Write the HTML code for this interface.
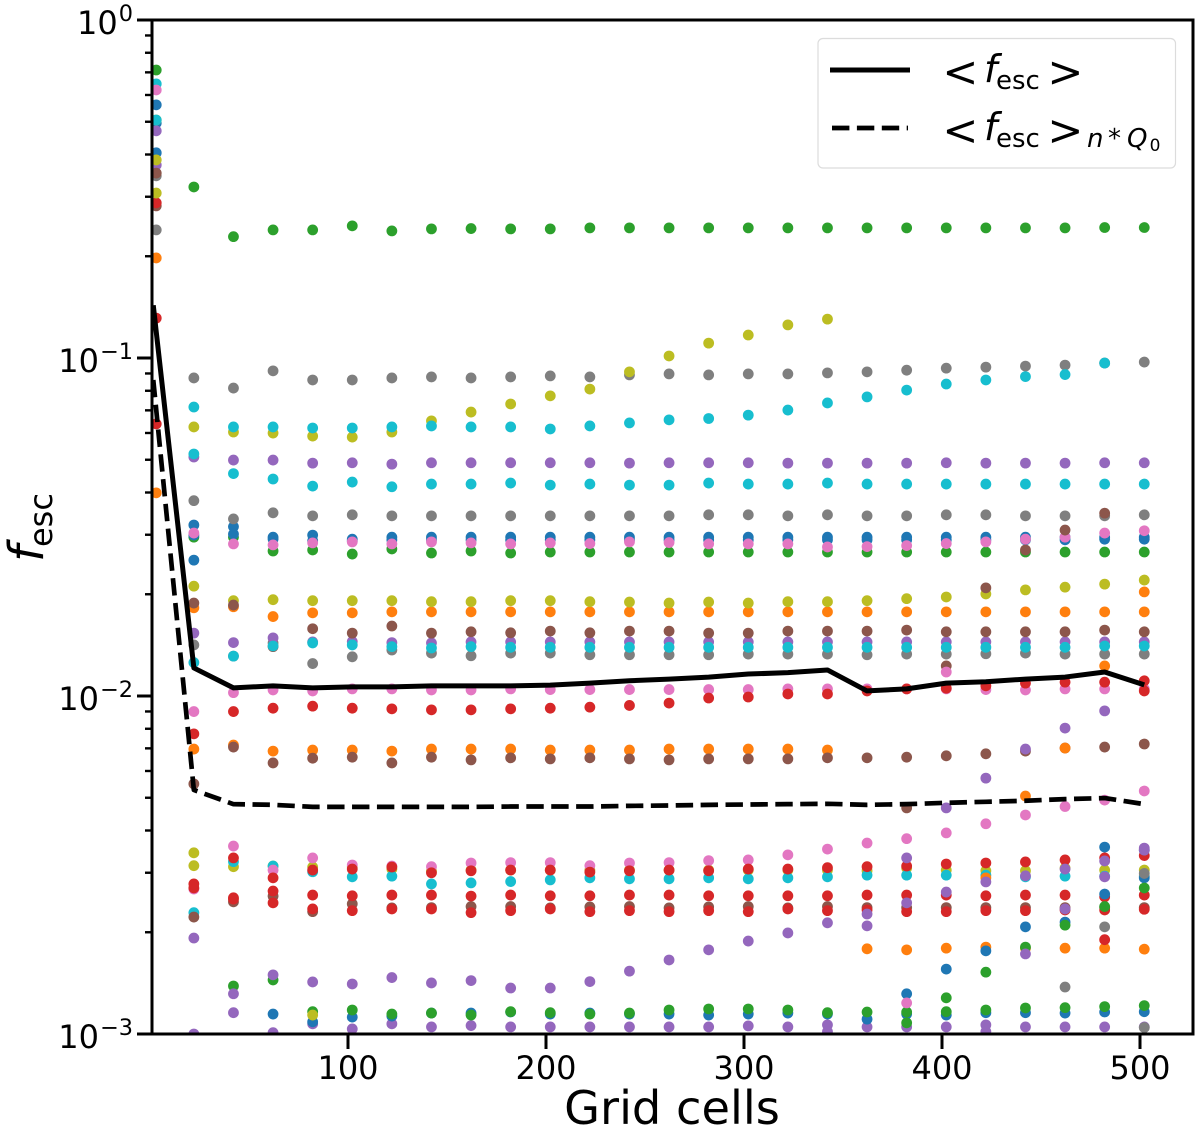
<!DOCTYPE html>
<html lang="en">
<head>
<meta charset="utf-8">
<title>Escape fraction vs grid cells</title>
<style>
html,body{margin:0;padding:0;background:#fff;width:1200px;height:1140px;overflow:hidden}
svg{display:block}
text{font-family:"DejaVu Sans","Liberation Sans",sans-serif;fill:#000}
.it{font-style:italic}
</style>
</head>
<body>
<svg id="chart" xmlns="http://www.w3.org/2000/svg" width="1200" height="1140" viewBox="0 0 1200 1140">
  <defs><clipPath id="plot-clip"><rect x="152" y="20" width="1041" height="1014"/></clipPath></defs>
  <rect x="0" y="0" width="1200" height="1140" fill="#fff"/>
  <g id="points" clip-path="url(#plot-clip)"></g>
  <g id="lines" clip-path="url(#plot-clip)"></g>
  <g id="axes"></g>
  <text x="672" y="1124" font-size="46.300" text-anchor="middle">Grid cells</text>
  <g>
    <text class="it" transform="translate(43,562) rotate(-90)" font-size="48">f</text>
    <text transform="translate(52,547) rotate(-90)" font-size="32">esc</text>
  </g>
  <g>
    <rect x="818" y="38.500" width="357.500" height="129.500" rx="5" fill="#fff" fill-opacity="0.8" stroke="#dcdcdc" stroke-width="1.200"/>
    <line x1="830" y1="70" x2="910" y2="70" stroke="#000" stroke-width="5"/>
    <line x1="832" y1="128" x2="908" y2="128" stroke="#000" stroke-width="4.700" stroke-dasharray="17.400 7.500"/>
    <g>
      <text x="942.400" y="86.500" font-size="43">&lt;</text>
      <text class="it" x="984" y="82" font-size="38">f</text>
      <text x="996" y="89" font-size="26">esc</text>
      <text x="1047.400" y="86.500" font-size="43">&gt;</text>
    </g>
    <g>
      <text x="942.400" y="145" font-size="43">&lt;</text>
      <text class="it" x="984" y="140" font-size="38">f</text>
      <text x="996" y="147" font-size="26">esc</text>
      <text x="1047.400" y="145" font-size="43">&gt;</text>
      <text class="it" x="1087" y="147" font-size="26">n</text>
      <text x="1108" y="147" font-size="26">*</text>
      <text class="it" x="1127" y="147" font-size="26">Q</text>
      <text x="1149.600" y="151" font-size="17">0</text>
    </g>
  </g>
</svg>
<script>
// Chart data: values are log10(f_esc). null = no point.
const gridCells = [3,22,42,62,82,102,122,142,162,182,202,222,242,262,282,302,322,342,362,382,402,422,442,462,482,502];
const lineCells = [1.5,22,42,62,82,102,122,142,162,182,202,222,242,262,282,302,322,342,362,382,402,422,442,462,482,502];
const xTicks = [100,200,300,400,500];
const yDecades = [-3,-2,-1,0];
const yTickExponents = ['\u22123','\u22122','\u22121','0'];
const yMinorFactors = [2,3,4,5,6,7,8,9];

const meanFesc = [-0.844,-1.917,-1.976,-1.970,-1.976,-1.973,-1.973,-1.970,-1.970,-1.970,-1.968,-1.962,-1.955,-1.950,-1.944,-1.935,-1.931,-1.923,-1.985,-1.979,-1.962,-1.958,-1.950,-1.944,-1.929,-1.967];
const meanFescNQ0 = [-1.065,-2.278,-2.320,-2.322,-2.328,-2.328,-2.328,-2.328,-2.328,-2.327,-2.327,-2.327,-2.325,-2.324,-2.322,-2.321,-2.320,-2.319,-2.322,-2.320,-2.316,-2.313,-2.310,-2.305,-2.302,-2.320];

const blueA = [-0.251,-1.494,-1.499,-1.530,-1.524,-1.536,-1.530,-1.530,-1.530,-1.530,-1.530,-1.530,-1.530,-1.530,-1.530,-1.530,-1.530,-1.530,-1.530,-1.530,-1.530,-1.530,-1.530,-1.530,-1.530,-1.530];
const blueB = [-0.305,-1.524,-1.521,-1.536,-1.541,-1.541,-1.538,-1.538,-1.538,-1.538,-1.538,-1.538,-1.538,-1.538,-1.538,-1.538,-1.538,-1.538,-1.538,-1.538,-1.538,-1.538,-1.538,-1.538,-1.536,-1.536];
const blueC = [-0.393,-1.598,null,-2.941,-2.964,-2.950,-2.947,-2.938,-2.938,-2.935,-2.941,-2.938,-2.941,-2.941,-2.944,-2.941,-2.938,-2.941,-2.956,-2.881,-2.808,-2.754,-2.683,-2.669,-2.586,-2.538];
const blueD = [null,null,null,null,null,null,null,null,null,null,null,null,null,null,null,null,null,null,null,-2.941,-2.944,-2.937,-2.937,-2.938,-2.935,-2.934];
const blueE = [null,null,null,null,null,null,null,null,null,null,null,null,null,null,null,null,null,null,null,null,null,null,null,null,-2.447,-2.456];

const orangeA = [-0.704,-1.739,-1.736,-1.765,-1.754,-1.754,-1.751,-1.751,-1.751,-1.751,-1.751,-1.751,-1.751,-1.751,-1.751,-1.751,-1.751,-1.751,-1.751,-1.751,-1.751,-1.751,-1.751,-1.751,-1.751,-1.751];
const orangeB = [null,null,null,null,null,null,null,null,null,null,null,null,null,null,null,null,null,null,null,null,null,-2.538,-2.296,-2.154,-1.911,-1.692];
const orangeC = [null,null,null,null,null,null,null,null,null,null,null,null,null,null,null,null,null,null,-2.748,-2.751,-2.746,-2.743,-2.746,-2.746,-2.746,-2.749];
const orangeD = [-1.399,-2.157,-2.145,-2.163,-2.160,-2.160,-2.163,-2.157,-2.157,-2.157,-2.160,-2.160,-2.160,-2.157,-2.157,-2.157,-2.157,-2.160,null,null,null,null,null,null,null,null];

const greenTop = [-0.148,-0.494,-0.641,-0.621,-0.621,-0.609,-0.624,-0.618,-0.617,-0.618,-0.618,-0.615,-0.615,-0.615,-0.615,-0.615,-0.615,-0.615,-0.615,-0.615,-0.615,-0.615,-0.615,-0.615,-0.614,-0.614];
const greenMid = [null,-1.530,-1.530,-1.571,-1.568,-1.580,-1.565,-1.577,-1.571,-1.577,-1.574,-1.574,-1.574,-1.574,-1.574,-1.574,-1.574,-1.574,-1.574,-1.574,-1.574,-1.574,-1.574,-1.574,-1.574,-1.574];
const greenLow = [null,null,-2.858,-2.840,-2.934,-2.929,-2.941,-2.938,-2.944,-2.934,-2.937,-2.941,-2.938,-2.929,-2.926,-2.926,-2.929,-2.937,-2.935,-2.935,-2.934,-2.929,-2.923,-2.922,-2.919,-2.916];
const greenRise = [null,null,null,null,null,null,null,null,null,null,null,null,null,null,null,null,null,null,null,-2.967,-2.893,-2.817,-2.743,-2.678,-2.623,-2.568];

const redA = [-0.882,-2.112,-2.046,-2.036,-2.030,-2.036,-2.038,-2.041,-2.041,-2.038,-2.036,-2.033,-2.028,-2.021,-2.006,-2.003,-1.994,-1.994,-1.985,-1.979,-1.977,-1.970,-1.962,-1.959,-1.959,-1.955];
const redB = [-0.541,-2.556,-2.479,-2.538,-2.515,-2.512,-2.506,-2.523,-2.517,-2.515,-2.515,-2.521,-2.517,-2.515,-2.517,-2.512,-2.512,-2.508,-2.505,-2.503,-2.497,-2.494,-2.491,-2.485,-2.479,-2.472];
const redC = [-1.195,-2.568,-2.597,-2.577,-2.589,-2.591,-2.589,-2.589,-2.592,-2.589,-2.591,-2.591,-2.589,-2.589,-2.591,-2.591,-2.591,-2.591,-2.589,-2.589,-2.589,-2.591,-2.589,-2.589,-2.594,-2.589];
const redD = [null,null,-2.601,-2.612,-2.630,-2.635,-2.630,-2.630,-2.641,-2.635,-2.630,-2.638,-2.635,-2.638,-2.635,-2.638,-2.630,-2.635,-2.633,-2.638,-2.638,-2.635,-2.635,-2.633,-2.633,-2.631];
const redE = [null,null,null,null,null,null,null,null,null,null,null,null,null,null,null,null,null,null,null,null,null,null,null,null,-2.721,-1.985];

const purpleA = [-0.328,-1.293,-1.302,-1.302,-1.311,-1.310,-1.314,-1.310,-1.310,-1.310,-1.310,-1.310,-1.311,-1.310,-1.310,-1.310,-1.311,-1.311,-1.311,-1.311,-1.310,-1.311,-1.311,-1.311,-1.310,-1.310];
const purpleB = [-0.429,-1.814,-1.842,-1.828,-1.840,-1.839,-1.842,-1.843,-1.840,-1.840,-1.840,-1.840,-1.840,-1.840,-1.840,-1.840,-1.840,-1.840,-1.840,-1.840,-1.840,-1.840,-1.840,-1.840,-1.840,-1.840];
const purpleC = [null,-2.716,-2.881,-2.825,-2.846,-2.852,-2.833,-2.849,-2.842,-2.864,-2.864,-2.845,-2.814,-2.781,-2.751,-2.725,-2.701,-2.671,-2.645,-2.612,-2.580,-2.550,-2.532,-2.512,-2.488,-2.456];
const purpleD = [null,null,null,null,null,null,null,null,null,null,null,null,null,null,null,null,null,null,-2.680,-2.479,-2.331,-2.243,-2.157,-2.095,-2.044,null];
const purpleE = [null,null,null,null,null,null,null,null,null,null,null,null,null,null,null,null,null,-2.993,null,null,null,-2.993,-2.763,-2.630,-2.535,-2.450];
const purpleLow = [null,-3.000,-2.937,-2.996,-2.970,-2.985,-2.970,-2.979,-2.975,-2.979,-2.979,-2.979,-2.979,-2.979,-2.979,-2.976,-2.979,-2.973,-2.979,-2.979,-2.979,-2.973,-2.979,-2.979,-2.979,-2.979];

const brownA = [-0.453,-1.725,-1.731,-1.854,-1.801,-1.814,-1.793,-1.814,-1.810,-1.813,-1.808,-1.813,-1.808,-1.808,-1.814,-1.814,-1.808,-1.808,-1.808,-1.805,-1.810,-1.810,-1.810,-1.810,-1.805,-1.810];
const brownB = [-0.550,-2.260,-2.151,-2.198,-2.184,-2.181,-2.198,-2.181,-2.189,-2.183,-2.186,-2.183,-2.186,-2.189,-2.186,-2.186,-2.186,-2.183,-2.183,-2.181,-2.177,-2.171,-2.163,-2.154,-2.151,-2.142];
const brownC = [null,-2.654,-2.609,-2.592,-2.638,-2.615,-2.627,-2.626,-2.623,-2.623,-2.627,-2.624,-2.623,-2.627,-2.624,-2.623,-2.627,-2.623,-2.626,-2.626,-2.626,-2.626,-2.626,-2.626,-2.626,-2.626];
const brownRise = [null,null,null,null,null,null,null,null,null,null,null,null,null,null,null,null,null,null,null,-2.331,-1.911,-1.680,-1.568,-1.509,-1.459,null];

const pinkA = [-0.207,-1.518,-1.550,-1.553,-1.547,-1.544,-1.550,-1.544,-1.547,-1.550,-1.547,-1.549,-1.544,-1.546,-1.550,-1.550,-1.550,-1.559,-1.558,-1.555,-1.549,-1.544,-1.536,-1.530,-1.518,-1.511];
const pinkB = [null,-2.046,-1.990,-1.982,-1.985,-1.979,-1.979,-1.982,-1.982,-1.979,-1.981,-1.981,-1.981,-1.981,-1.981,-1.981,-1.979,-1.979,-1.979,-1.979,-1.979,-1.981,-1.982,-1.979,-1.979,-1.979];
const pinkC = [null,-2.571,-2.444,-2.515,-2.479,-2.500,-2.503,-2.505,-2.494,-2.493,-2.493,-2.502,-2.494,-2.493,-2.487,-2.485,-2.470,-2.453,-2.435,-2.422,-2.405,-2.378,-2.352,-2.327,-2.308,-2.281];
const pinkD = [null,null,null,null,null,null,null,null,null,null,null,null,null,null,null,null,null,null,null,-2.908,-1.929,null,null,null,null,null];

const grayTop = [-0.621,-1.059,-1.089,-1.038,-1.065,-1.065,-1.059,-1.056,-1.059,-1.056,-1.053,-1.056,-1.050,-1.047,-1.050,-1.047,-1.047,-1.044,-1.041,-1.036,-1.030,-1.027,-1.024,-1.021,-1.015,-1.012];
const grayMid = [-0.461,-1.422,-1.476,-1.458,-1.467,-1.464,-1.467,-1.467,-1.467,-1.467,-1.467,-1.467,-1.467,-1.467,-1.464,-1.464,-1.467,-1.464,-1.467,-1.467,-1.464,-1.464,-1.467,-1.467,-1.467,-1.464];
const grayLow = [null,-1.849,-1.882,-1.843,-1.904,-1.884,-1.864,-1.873,-1.881,-1.873,-1.873,-1.878,-1.878,-1.878,-1.878,-1.876,-1.876,-1.876,-1.878,-1.876,-1.876,-1.875,-1.873,-1.876,-1.876,-1.876];
const grayRise = [null,null,null,null,null,null,null,null,null,null,null,null,null,null,null,null,null,null,null,null,null,null,null,-2.861,-2.683,-2.525];
const grayEnd = [null,null,null,null,null,null,null,null,null,null,null,null,null,null,null,null,null,null,null,null,null,null,null,null,null,-2.981];

const oliveRise = [-0.512,-1.204,-1.219,-1.222,-1.231,-1.234,-1.219,-1.186,-1.160,-1.136,-1.112,-1.092,-1.041,-0.994,-0.956,-0.932,-0.902,-0.885,null,null,null,null,null,null,null,null];
const oliveMid = [-0.414,-1.675,-1.718,-1.715,-1.718,-1.718,-1.718,-1.721,-1.721,-1.718,-1.718,-1.721,-1.722,-1.725,-1.722,-1.725,-1.721,-1.721,-1.718,-1.712,-1.707,-1.698,-1.686,-1.678,-1.669,-1.657];
const oliveLow = [-0.296,-2.464,-2.505,-2.503,-2.506,-2.506,-2.512,-2.518,-2.515,-2.515,-2.515,-2.515,-2.515,-2.515,-2.515,-2.515,-2.515,-2.515,-2.517,-2.509,-2.515,-2.517,-2.517,-2.509,-2.515,-2.515];
const oliveExtra = [null,-2.502,null,null,-2.944,null,null,null,null,null,null,null,null,null,null,null,null,null,null,null,null,null,null,null,null,null];

const cyanRise = [-0.189,-1.145,-1.204,-1.204,-1.207,-1.207,-1.204,-1.201,-1.204,-1.204,-1.210,-1.201,-1.192,-1.183,-1.179,-1.169,-1.154,-1.133,-1.115,-1.095,-1.077,-1.065,-1.055,-1.049,-1.015,null];
const cyanA = [-0.296,-1.284,-1.342,-1.358,-1.379,-1.367,-1.381,-1.373,-1.373,-1.370,-1.376,-1.373,-1.376,-1.376,-1.370,-1.373,-1.373,-1.370,-1.373,-1.373,-1.373,-1.373,-1.373,-1.373,-1.373,-1.373];
const cyanB = [null,-1.901,-1.882,-1.852,-1.843,-1.849,-1.854,-1.858,-1.854,-1.856,-1.856,-1.856,-1.856,-1.856,-1.856,-1.856,-1.856,-1.856,-1.856,-1.856,-1.856,-1.856,-1.856,-1.856,-1.852,-1.852];
const cyanC = [null,-2.641,-2.490,-2.503,-2.520,-2.535,-2.533,-2.556,-2.553,-2.549,-2.544,-2.538,-2.541,-2.541,-2.538,-2.541,-2.538,-2.535,-2.530,-2.530,-2.530,-2.530,-2.535,-2.533,-2.533,-2.533];

const tabBlue = '#1f77b4', tabOrange = '#ff7f0e', tabGreen = '#2ca02c', tabRed = '#d62728', tabPurple = '#9467bd',
      tabBrown = '#8c564b', tabPink = '#e377c2', tabGray = '#7f7f7f', tabOlive = '#bcbd22', tabCyan = '#17becf';

// Draw order (later on top) follows the overlaps in the figure.
const seriesList = [
  [greenMid,tabGreen,'green-mid'],[blueA,tabBlue,'blue-a'],[blueB,tabBlue,'blue-b'],
  [grayTop,tabGray,'gray-top'],[grayMid,tabGray,'gray-mid'],[grayLow,tabGray,'gray-low'],
  [purpleA,tabPurple,'purple-a'],[purpleB,tabPurple,'purple-b'],[purpleLow,tabPurple,'purple-low'],
  [orangeD,tabOrange,'orange-d'],[orangeC,tabOrange,'orange-c'],
  [oliveLow,tabOlive,'olive-low'],
  [cyanC,tabCyan,'cyan-c'],
  [pinkC,tabPink,'pink-c'],[brownC,tabBrown,'brown-c'],[brownB,tabBrown,'brown-b'],
  [redC,tabRed,'red-c'],[redD,tabRed,'red-d'],[redB,tabRed,'red-b'],
  [pinkB,tabPink,'pink-b'],[redA,tabRed,'red-a'],[redE,tabRed,'red-e'],
  [blueC,tabBlue,'blue-c'],[blueD,tabBlue,'blue-d'],[blueE,tabBlue,'blue-e'],
  [greenLow,tabGreen,'green-low'],[greenRise,tabGreen,'green-rise'],[greenTop,tabGreen,'green-top'],
  [orangeA,tabOrange,'orange-a'],[orangeB,tabOrange,'orange-b'],
  [oliveRise,tabOlive,'olive-rise'],[oliveMid,tabOlive,'olive-mid'],[oliveExtra,tabOlive,'olive-extra'],
  [cyanRise,tabCyan,'cyan-rise'],[cyanA,tabCyan,'cyan-a'],
  [brownA,tabBrown,'brown-a'],[purpleC,tabPurple,'purple-c'],[pinkA,tabPink,'pink-a'],[brownRise,tabBrown,'brown-rise'],
  [cyanB,tabCyan,'cyan-b'],[pinkD,tabPink,'pink-d'],
  [purpleD,tabPurple,'purple-d'],[grayRise,tabGray,'gray-rise'],[purpleE,tabPurple,'purple-e'],[grayEnd,tabGray,'gray-end']
];

// Axis functions
const xPx = x => 348.3 + (x - 100) * 1.98;
const yPx = logV => 20 + (0 - logV) * 338;

const NS = 'http://www.w3.org/2000/svg';
function mk(tag, attrs, parent) {
  const el = document.createElementNS(NS, tag);
  for (const k in attrs) el.setAttribute(k, attrs[k]);
  parent.appendChild(el);
  return el;
}

const pointsG = document.getElementById('points');
seriesList.forEach(s => {
  const values = s[0], color = s[1], label = s[2];
  const g = mk('g', {fill: color}, pointsG);
  
  
  values.forEach((v, i) => {
    if (v === null) return;
    const c = mk('circle', {cx: xPx(gridCells[i]).toFixed(2), cy: yPx(v).toFixed(2), r: 5.4}, g);
    
    
  });
});

const linesG = document.getElementById('lines');
function linePoints(values) {
  return values.map((v, i) => xPx(lineCells[i]).toFixed(2) + ',' + yPx(v).toFixed(2)).join(' ');
}
const solid = mk('polyline', {points: linePoints(meanFesc), fill: 'none', stroke: '#000', 'stroke-width': 5, 'stroke-linejoin': 'round'}, linesG);


const dashed = mk('polyline', {points: linePoints(meanFescNQ0), fill: 'none', stroke: '#000', 'stroke-width': 4.7, 'stroke-dasharray': '17.4 7.5', 'stroke-linejoin': 'round'}, linesG);



const axesG = document.getElementById('axes');
const frame = mk('rect', {x: 152, y: 20, width: 1041, height: 1014, fill: 'none', stroke: '#000', 'stroke-width': 3}, axesG);



xTicks.forEach(t => {
  const x = xPx(t) - 0.3;
  const tick = mk('line', {x1: x, x2: x, y1: 1034, y2: 1049, stroke: '#000', 'stroke-width': 3}, axesG);
  
  
  const label = mk('text', {x: x, y: 1079, 'font-size': 32, 'text-anchor': 'middle'}, axesG);
  label.textContent = String(t);
  
  
});

yDecades.forEach((d, i) => {
  const y = yPx(d);
  const tick = mk('line', {x1: 137, x2: 152, y1: y, y2: y, stroke: '#000', 'stroke-width': 3}, axesG);
  
  
  const exp = mk('text', {x: 133, y: y + 1, 'font-size': 22.4, 'text-anchor': 'end'}, axesG);
  exp.textContent = yTickExponents[i];
  
  
  const len = exp.getComputedTextLength();
  const base = mk('text', {x: 133 - len - 1, y: y + 14, 'font-size': 32, 'text-anchor': 'end'}, axesG);
  base.textContent = '10';
  
  
  if (d < 0) {
    yMinorFactors.forEach(f => {
      const my = yPx(d + Math.log10(f));
      const minor = mk('line', {x1: 145, x2: 152, y1: my, y2: my, stroke: '#000', 'stroke-width': 2.4}, axesG);
      
      
    });
  }
});
</script>
</body>
</html>
